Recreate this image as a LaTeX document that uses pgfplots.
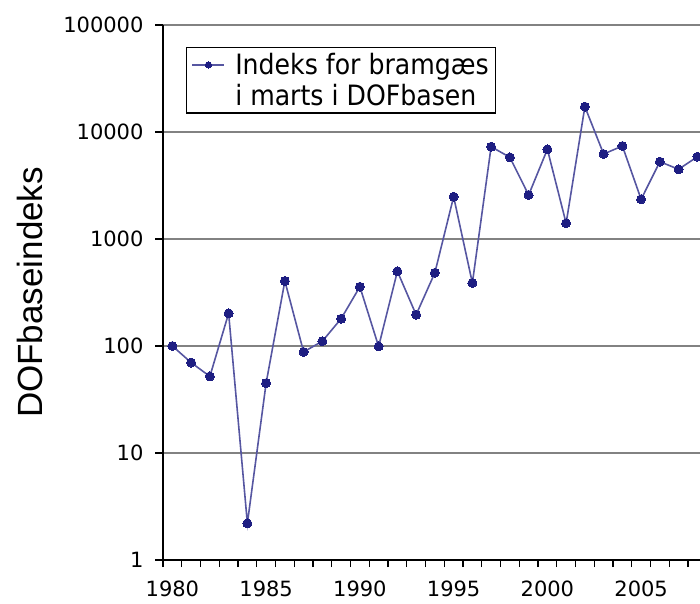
\documentclass[border=0pt]{standalone}
\usepackage{pgfplots}
\pgfplotsset{compat=1.18}
\usepackage{fontspec}
\setmainfont{DejaVu Sans}
\newfontfamily\arialf{Liberation Sans}
\newfontfamily\legf[FakeStretch=0.9]{DejaVu Sans}
\definecolor{navy}{RGB}{30,30,130}
\definecolor{gridg}{RGB}{130,130,130}
\pgfplotstableread{
year val
1980 100
1981 70
1982 52
1983 202
1984 2.2
1985 45
1986 405
1987 88
1988 111
1989 180
1990 358
1991 99
1992 499
1993 196
1994 484
1995 2485
1996 388
1997 7290
1998 5800
1999 2577
2000 6890
2001 1403
2002 17250
2003 6225
2004 7400
2005 2350
2006 5280
2007 4480
2008 5880
}\datatab
\begin{document}
\begin{tikzpicture}
\begin{axis}[
  scale only axis, width=562.5pt, height=535pt,
  at={(0pt,0pt)}, anchor=south west,
  xmin=1979.5, xmax=2009.5,
  ymode=log, ymin=1, ymax=100000,
  axis lines*=left,
  axis line style={black, line width=1.4pt},
  xtick={1980,1985,...,2005},
  major x tick style={draw=none},
  minor xtick={1979.5,1980.5,...,2009.5},
  ytick={1,10,100,1000,10000,100000},
  yticklabels={1,10,100,1000,10000,100000},
  yminorticks=false,
  tick align=outside,
  major tick length=8pt, minor tick length=7pt,
  tick style={black, line width=1.1pt},
  x tick label style={/pgf/number format/1000 sep={}, yshift=-9pt},
  y tick label style={xshift=-8pt},
  ticklabel style={font=\fontsize{21}{25}\selectfont},
  /pgf/number format/assume math mode=true,
  ymajorgrids, grid style={gridg, line width=1.7pt},
  ylabel={DOFbaseindeks},
  ylabel style={at={(ticklabel* cs:0.5,133pt)}, anchor=center, font=\arialf\fontsize{35}{40}\selectfont},
  legend style={at={(rel axis cs:0.041,0.959)}, anchor=north west, draw=black, line width=1.2pt,
     font=\legf\fontsize{28}{32}\selectfont, inner xsep=5pt, inner ysep=4pt, column sep=8pt, row sep=4pt},
  legend cell align=left,
  legend image code/.code={\draw[#1,mark=none] (0pt,0pt)--(32pt,0pt); \path[#1, mark size=3.2pt] plot coordinates{(16pt,0pt)};},
]
\addplot[color=navy!75!white, line width=1.6pt, mark=*, mark size=4.5pt, mark options={fill=navy, draw=navy, line width=0pt}] table[x=year,y=val] {\datatab};
\addlegendentry{Indeks for bramgæs}
\addlegendimage{empty legend}
\addlegendentry{i marts i DOFbasen}
\end{axis}
\pgfresetboundingbox
\path[use as bounding box] (-163pt,-43pt) rectangle (537pt,560pt);
\end{tikzpicture}
\end{document}
